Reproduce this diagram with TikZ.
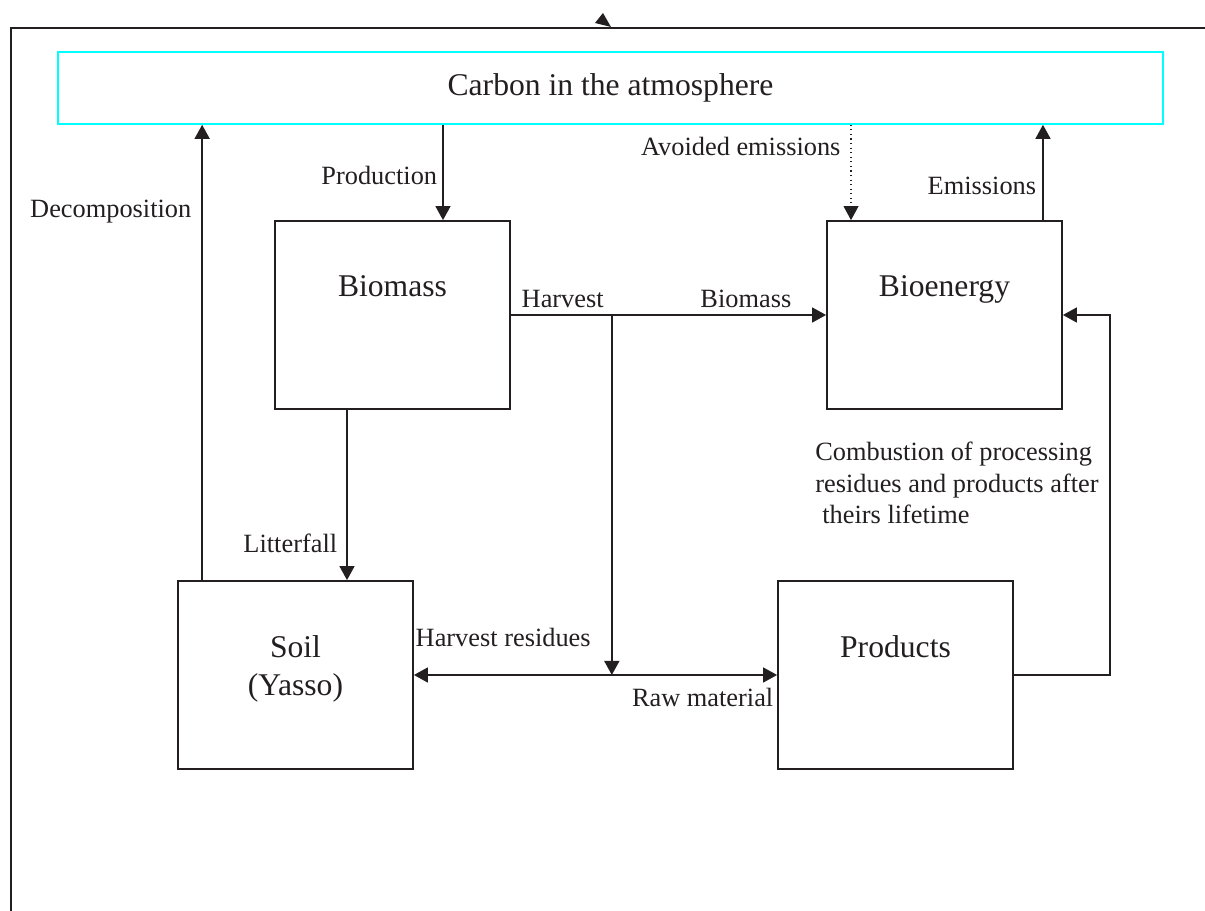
\documentclass[tikz,border=0pt]{standalone}
\usepackage{fontspec}
\setmainfont{Liberation Serif}
\usepackage{tikz}
\usetikzlibrary{arrows.meta,positioning}
\definecolor{ink}{RGB}{35,31,32}
\definecolor{aqua}{RGB}{0,255,255}

\begin{document}
\begin{tikzpicture}[x=0.02cm,y=-0.02cm]
  \tikzstyle{box}=[draw=ink,line width=1pt,minimum width=4.7cm,minimum height=3.76cm,inner sep=0pt]
  \tikzstyle{boxtext}=[inner sep=0pt,font=\fontsize{18}{21.5}\selectfont,align=center,text=ink]
  \tikzstyle{lbl}=[inner sep=0pt,font=\fontsize{15}{17.9}\selectfont,text=ink]
  \tikzstyle{arr}=[draw=ink,line width=1pt,-{Triangle[length=8pt,width=8.5pt]}]
  \useasboundingbox (0,0) rectangle (1205,911);
  % frame
  \draw[ink,line width=1pt] (11,911) -- (11,28) -- (1205,28);
  \fill[ink] (595,23) -- (603,13) -- (611,27) -- cycle;
  % pools
  \node[draw=aqua,line width=0.9pt,minimum width=22.1cm,minimum height=1.44cm,inner sep=0pt,font=\fontsize{18}{21.5}\selectfont,text=ink] (atm) at (610.5,88) {Carbon in the atmosphere};
  \node[box] (biomass) at (392.5,315) {};
  \node[box] (bioenergy) at (944.5,315) {};
  \node[box] (soil) at (295.5,675) {};
  \node[box] (products) at (895.5,675) {};
  \node[boxtext,below=1.1cm of biomass.north] (biomasstxt) {Biomass};
  \node[boxtext,below=1.1cm of bioenergy.north] (bioenergytxt) {Bioenergy};
  \node[boxtext,below=1.1cm of soil.north] (soiltxt) {Soil\\(Yasso)};
  \node[boxtext,below=1.1cm of products.north] (productstxt) {Products};
  % flows
  \coordinate (decomp) at ([xshift=0.5cm]soil.north west);
  \coordinate (prod) at ([xshift=1.01cm]biomass.north);
  \coordinate (litter) at ([xshift=-0.91cm]biomass.south);
  \coordinate (avoid) at ([xshift=-1.87cm]bioenergy.north);
  \coordinate (emis) at ([xshift=1.97cm]bioenergy.north);
  \coordinate (split) at ([xshift=2.02cm]biomass.east);
  \draw[arr] (decomp) -- (decomp |- atm.south) node[lbl,pos=0.797,anchor=base east,xshift=-0.2cm] {Decomposition};
  \draw[arr] (prod |- atm.south) -- (prod) node[lbl,pos=0.63,anchor=base east,xshift=-0.1cm] {Production};
  \draw[arr,line width=0.6pt,dotted] (avoid |- atm.south) -- (avoid) node[lbl,pos=0.32,anchor=base east,xshift=-0.2cm] {Avoided emissions};
  \draw[arr] (emis) -- (emis |- atm.south) node[lbl,pos=0.27,anchor=base east,xshift=-0.12cm] {Emissions};
  \draw[arr] (biomass.east) -- (bioenergy.west) node[lbl,pos=0,anchor=base west,xshift=0.2cm,yshift=0.14cm] {Harvest} node[lbl,pos=1,anchor=base east,xshift=-0.68cm,yshift=0.14cm] {Biomass};
  \draw[arr] (litter) -- (litter |- soil.north) node[lbl,pos=0.837,anchor=base east,xshift=-0.18cm] {Litterfall};
  \draw[arr] (split) -- (split |- soil.east);
  \draw[arr,{Triangle[length=8pt,width=8.5pt]}-{Triangle[length=8pt,width=8.5pt]}] (soil.east) -- (products.west) node[lbl,pos=0,anchor=base west,xshift=0.02cm,yshift=0.58cm] {Harvest residues} node[lbl,pos=1,anchor=base east,xshift=-0.06cm,yshift=-0.64cm] {Raw material};
  \draw[arr] (products.east) -- ++(96,0) |- (bioenergy.east);
  \node[lbl,align=left,anchor=north west] (combust) at (815,442) {Combustion of processing\\residues and products after\\\hspace*{4pt}theirs lifetime};
\end{tikzpicture}
\end{document}
